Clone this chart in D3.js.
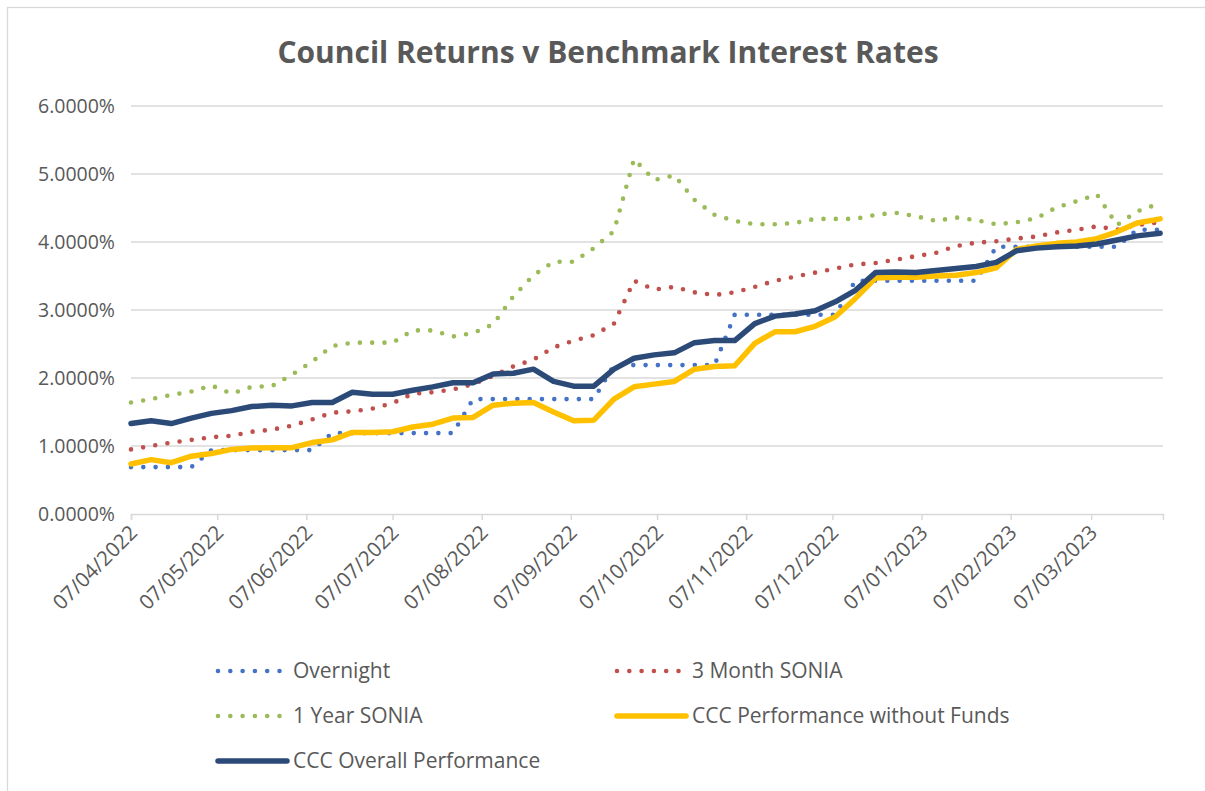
<!DOCTYPE html>
<html>
<head>
<meta charset="utf-8">
<script src="https://cdn.jsdelivr.net/npm/d3@7"></script>
<style>
  body { margin: 0; background: #fff; }
  svg { font-family: "Open Sans", sans-serif; }
</style>
</head>
<body>
<svg id="chart" width="1205" height="791"></svg>
<script>
const dates = ["2022-04-07","2022-04-14","2022-04-21","2022-04-28","2022-05-05","2022-05-12","2022-05-19","2022-05-26",
  "2022-06-02","2022-06-09","2022-06-16","2022-06-23","2022-06-30","2022-07-07","2022-07-14","2022-07-21","2022-07-28",
  "2022-08-04","2022-08-11","2022-08-18","2022-08-25","2022-09-01","2022-09-08","2022-09-15","2022-09-22","2022-09-29",
  "2022-10-06","2022-10-13","2022-10-20","2022-10-27","2022-11-03","2022-11-10","2022-11-17","2022-11-24",
  "2022-12-01","2022-12-08","2022-12-15","2022-12-22","2022-12-29","2023-01-05","2023-01-12","2023-01-19","2023-01-26",
  "2023-02-02","2023-02-09","2023-02-16","2023-02-23","2023-03-02","2023-03-09","2023-03-16","2023-03-23","2023-03-31"];

// values in percent
const overnight = [0.69,0.69,0.69,0.69,0.94,0.94,0.94,0.94,0.94,0.94,1.19,1.19,1.19,1.19,1.19,1.19,1.19,
  1.69,1.69,1.69,1.69,1.69,1.69,1.69,2.19,2.19,2.19,2.19,2.19,2.19,2.93,2.93,2.93,2.93,2.93,2.93,
  3.43,3.43,3.43,3.43,3.43,3.43,3.43,3.93,3.93,3.93,3.93,3.93,3.93,3.93,4.18,4.18];
const sonia3m = [0.95,1.00,1.05,1.09,1.13,1.15,1.21,1.24,1.30,1.39,1.49,1.51,1.55,1.63,1.77,1.79,1.83,1.91,2.03,2.17,
  2.27,2.45,2.55,2.63,2.80,3.43,3.30,3.34,3.26,3.22,3.26,3.34,3.43,3.49,3.55,3.61,3.67,3.69,3.74,3.79,
  3.84,3.94,3.99,4.01,4.05,4.08,4.14,4.18,4.23,4.18,4.25,4.29];
const sonia1y = [1.64,1.69,1.75,1.80,1.89,1.77,1.87,1.88,2.05,2.24,2.47,2.52,2.52,2.52,2.70,2.70,2.61,2.66,2.79,3.20,
  3.51,3.71,3.71,3.91,4.16,5.22,4.91,4.98,4.62,4.40,4.31,4.26,4.26,4.28,4.34,4.34,4.34,4.40,4.43,4.38,
  4.31,4.36,4.32,4.26,4.29,4.35,4.51,4.60,4.70,4.25,4.45,4.57];
const cccNoFunds = [0.735,0.80,0.755,0.85,0.89,0.95,0.97,0.975,0.975,1.05,1.09,1.20,1.20,1.21,1.28,1.32,1.41,1.42,
  1.60,1.63,1.64,1.50,1.37,1.38,1.69,1.87,1.91,1.95,2.13,2.17,2.18,2.51,2.68,2.68,2.76,
  2.90,3.17,3.47,3.48,3.48,3.50,3.51,3.55,3.62,3.89,3.94,3.98,4.00,4.05,4.15,4.28,4.34];
const cccOverall = [1.33,1.37,1.33,1.41,1.48,1.52,1.58,1.60,1.59,1.64,1.64,1.79,1.76,1.76,1.82,1.87,1.93,1.93,
  2.06,2.07,2.13,1.95,1.88,1.88,2.13,2.29,2.34,2.37,2.52,2.55,2.55,2.80,2.91,2.94,2.99,
  3.12,3.29,3.55,3.56,3.55,3.58,3.61,3.64,3.70,3.87,3.91,3.93,3.94,3.97,4.03,4.09,4.13];

const tickDates = ["2022-04-07","2022-05-07","2022-06-07","2022-07-07","2022-08-07","2022-09-07","2022-10-07",
  "2022-11-07","2022-12-07","2023-01-07","2023-02-07","2023-03-07"];
const yTicks = [0, 1, 2, 3, 4, 5, 6];

const seriesNames = ["Overnight", "3 Month SONIA", "1 Year SONIA", "CCC Performance without Funds", "CCC Overall Performance"];
const seriesValues = [overnight, sonia3m, sonia1y, cccNoFunds, cccOverall];
const seriesColors = ["#4472C4", "#C0504D", "#9BBB59", "#FFC000", "#2B4A78"];
const seriesDotted = [true, true, true, false, false];

const parse = d3.timeParse("%Y-%m-%d");
const svg = d3.select("#chart");
const textColor = "#595959";
const gridColor = "#d9d9d9";

// chart area border
svg.append("rect")
  .attr("x", 7.5).attr("y", 7.5)
  .attr("width", 1230).attr("height", 820)
  .attr("fill", "none").attr("stroke", gridColor).attr("stroke-width", 1.3);

svg.append("text")
  .attr("x", 608).attr("y", 63)
  .attr("text-anchor", "middle")
  .attr("font-size", 30).attr("font-weight", "bold")
  .attr("fill", textColor)
  .text("Council Returns v Benchmark Interest Rates");

const x = d3.scaleTime()
  .domain([parse(dates[0]), parse("2023-04-01")])
  .range([131, 1163]);

const y = d3.scaleLinear()
  .domain([0, 6])
  .range([514, 106]);

// gridlines
svg.append("g")
  .selectAll("line")
  .data(yTicks.slice(1))
  .join("line")
  .attr("x1", 131).attr("x2", 1163)
  .attr("y1", d => y(d)).attr("y2", d => y(d))
  .attr("stroke", gridColor).attr("stroke-width", 1.5);

// y axis labels
svg.append("g")
  .attr("transform", "translate(131,0)")
  .call(d3.axisLeft(y).tickValues(yTicks).tickSize(0).tickPadding(16)
    .tickFormat(d => d.toFixed(4) + "%"))
  .call(g => g.select(".domain").remove())
  .call(g => g.selectAll("text")
    .attr("font-family", "Open Sans")
    .attr("font-size", 19.5).attr("fill", textColor));

// x axis
svg.append("g")
  .attr("transform", "translate(0,514)")
  .call(d3.axisBottom(x).tickValues(tickDates.map(parse)).tickSize(6)
    .tickFormat(d3.timeFormat("%d/%m/%Y")))
  .call(g => g.select(".domain").attr("stroke", gridColor).attr("stroke-width", 1.5))
  .call(g => g.selectAll(".tick line").attr("stroke", gridColor).attr("stroke-width", 1.5))
  .call(g => g.selectAll("text")
    .attr("font-family", "Open Sans")
    .attr("font-size", 20.5).attr("fill", textColor)
    .attr("text-anchor", "end")
    .attr("dy", null).attr("y", 0)
    .attr("transform", "translate(7,20) rotate(-45)"));

// lines
const line = d3.line()
  .x((d, i) => x(parse(dates[i])))
  .y(d => y(d));

seriesValues.forEach((vals, k) => {
  svg.append("path")
    .datum(vals)
    .attr("d", line)
    .attr("fill", "none")
    .attr("stroke", seriesColors[k])
    .attr("stroke-width", seriesDotted[k] ? 4.6 : 5.5)
    .attr("stroke-linecap", "round")
    .attr("stroke-linejoin", "round")
    .attr("stroke-dasharray", seriesDotted[k] ? "0 12.3" : null);
});

// legend
const legendPos = [[216, 671], [615, 671], [216, 716], [615, 716], [216, 761]];
seriesNames.forEach((name, k) => {
  const [lx, ly] = legendPos[k];
  svg.append("line")
    .attr("x1", lx + 2).attr("x2", lx + (seriesDotted[k] ? 68 : 71))
    .attr("y1", ly).attr("y2", ly)
    .attr("stroke", seriesColors[k])
    .attr("stroke-width", seriesDotted[k] ? 4.6 : 5.5)
    .attr("stroke-linecap", "round")
    .attr("stroke-dasharray", seriesDotted[k] ? "0 12.3" : null);
  svg.append("text")
    .attr("x", lx + 77).attr("y", ly)
    .attr("dy", "0.35em")
    .attr("font-size", 21).attr("fill", textColor)
    .text(name);
});
</script>
</body>
</html>
